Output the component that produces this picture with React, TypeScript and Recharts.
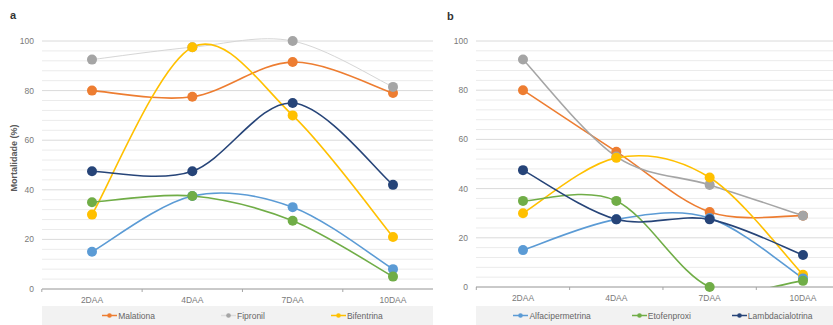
import { LineChart, Line, XAxis, YAxis, CartesianGrid } from "recharts";

const categories = ["2DAA", "4DAA", "7DAA", "10DAA"];
const yLabels = [0, 20, 40, 60, 80, 100];
const gridSteps = Array.from({ length: 26 }, (_, i) => i * 4);

// panel a
const malationaA = [80, 77.5, 91.5, 79];
const fipronilA = [92.5, 97.5, 100, 81.5];
const bifentrinaA = [30, 97.5, 70, 21];
const alfaA = [15, 37.5, 33, 8];
const etoA = [35, 37.5, 27.5, 5];
const lambdaA = [47.5, 47.5, 75, 42];

// panel b
const malationaB = [80, 55, 30.5, 29];
const fipronilB = [92.5, 53, 41.5, 29];
const bifentrinaB = [30, 52.5, 44.5, 5];
const alfaB = [15, 27.5, 28, 3.5];
const etoB = [35, 35, 0, 2.5];
const lambdaB = [47.5, 27.5, 27.5, 13];

const legendA = ["Malationa", "Fipronil", "Bifentrina"];
const legendB = ["Alfacipermetrina", "Etofenproxi", "Lambdacialotrina"];

const rowsA = categories.map((c, i) => ({
  cat: c, mal: malationaA[i], fip: fipronilA[i], bif: bifentrinaA[i],
  alf: alfaA[i], eto: etoA[i], lam: lambdaA[i],
}));
const rowsB = categories.map((c, i) => ({
  cat: c, mal: malationaB[i], fip: fipronilB[i], bif: bifentrinaB[i],
  alf: alfaB[i], eto: etoB[i], lam: lambdaB[i],
}));

const FONT = "'Liberation Sans', Arial, sans-serif";
const TXT = "#7a7a7a";

const series = [
  { key: "mal", name: "Malationa", color: "#ED7D31" },
  { key: "fip", name: "Fipronil", color: "#A5A5A5" },
  { key: "bif", name: "Bifentrina", color: "#FFC000" },
  { key: "alf", name: "Alfacipermetrina", color: "#5B9BD5" },
  { key: "eto", name: "Etofenproxi", color: "#70AD47" },
  { key: "lam", name: "Lambdacialotrina", color: "#264478" },
];

// excel-like smoothed line (catmull-rom as bezier)
function excelCurve(context: any) {
  let pts: number[][] = [];
  return {
    areaStart() {},
    areaEnd() {},
    lineStart() { pts = []; },
    point(x: number, y: number) { pts.push([+x, +y]); },
    lineEnd() {
      const n = pts.length;
      if (!n) return;
      context.moveTo(pts[0][0], pts[0][1]);
      for (let i = 0; i < n - 1; i++) {
        const p0 = pts[i - 1] || pts[i];
        const p1 = pts[i];
        const p2 = pts[i + 1];
        const p3 = pts[i + 2] || p2;
        context.bezierCurveTo(
          p1[0] + (p2[0] - p0[0]) / 6, p1[1] + (p2[1] - p0[1]) / 6,
          p2[0] - (p3[0] - p1[0]) / 6, p2[1] - (p3[1] - p1[1]) / 6,
          p2[0], p2[1]
        );
      }
    },
  };
}

function YTick(props: any) {
  const { x, y, payload } = props;
  if (payload.value % 20 !== 0) return <g />;
  return (
    <text x={x} y={y} textAnchor="end" dominantBaseline="central" fontSize={8.5} fill={TXT} fontFamily={FONT}>
      {payload.value}
    </text>
  );
}

function xTick(half: number) {
  return (props: any) => {
    const { x, y, payload, index } = props;
    return (
      <g>
        <line x1={x - half} x2={x - half} y1={y} y2={y + 3} stroke="#a6a6a6" />
        {index === categories.length - 1 && <line x1={x + half} x2={x + half} y1={y} y2={y + 3} stroke="#a6a6a6" />}
        <text x={x} y={y + 11} textAnchor="middle" dominantBaseline="central" fontSize={8.5} fill={TXT} fontFamily={FONT}>
          {payload.value}
        </text>
      </g>
    );
  };
}

function gridLine(props: any) {
  const v = gridSteps[props.index];
  return (
    <line key={props.key ?? props.index} x1={props.x1} x2={props.x2} y1={props.y1} y2={props.y2}
      stroke={v % 20 === 0 ? "#dadada" : "#ebebeb"} strokeWidth={1} />
  );
}

function Legend({ names, gap, faint }: { names: string[]; gap: number; faint?: string }) {
  return (
    <div style={{ display: "flex", justifyContent: "center", alignItems: "center", gap, height: 19 }}>
      {names.map((n) => {
        const s = series.find((q) => q.name === n)!;
        return (
          <div key={n} style={{ display: "flex", alignItems: "center" }}>
            <svg width={15} height={7}>
              <line x1={0} x2={15} y1={3.5} y2={3.5} stroke={n === faint ? "#dcdcdc" : s.color} strokeWidth={1.5} />
              <circle cx={7.5} cy={3.5} r={2.3} fill={s.color} />
            </svg>
            <span style={{ fontSize: 8.5, color: "#666", marginLeft: 1 }}>{n}</span>
          </div>
        );
      })}
    </div>
  );
}

function Panel({ rows, width, padX, bottom, half, thinFip, clip }: any) {
  return (
    <LineChart width={width} height={325} data={rows} margin={{ top: 41, right: 2, bottom, left: 0 }}>
      <CartesianGrid vertical={false} horizontal={gridLine} />
      <XAxis
        dataKey="cat"
        height={20}
        padding={{ left: padX, right: padX }}
        stroke="#a6a6a6"
        tickSize={0}
        tickMargin={0}
        tick={xTick(half)}
        interval={0}
      />
      <YAxis
        width={42}
        domain={[0, 100]}
        ticks={gridSteps}
        interval={0}
        allowDataOverflow={!!clip}
        axisLine={false}
        tickLine={false}
        tickSize={0}
        tickMargin={8}
        tick={<YTick />}
      />
      {series.map((s) => {
        const thin = thinFip && s.key === "fip";
        return (
          <Line
            key={s.key}
            dataKey={s.key}
            name={s.name}
            type={excelCurve as any}
            stroke={thin ? "#d6d6d6" : s.color}
            strokeWidth={thin ? 1 : 1.6}
            dot={{ r: 5, fill: s.color, stroke: s.color, strokeWidth: 0, clipDot: false }}
            activeDot={false}
            isAnimationActive={false}
          />
        );
      })}
    </LineChart>
  );
}

export default function App() {
  return (
    <div style={{ position: "fixed", left: 0, top: 0, width: 833, height: 325, overflow: "hidden", background: "#fff", fontFamily: FONT }}>
      <div style={{ position: "absolute", left: 0, top: 0, width: 433, height: 325, overflow: "hidden" }}>
        <Panel rows={rowsA} width={445} padX={50} bottom={16} half={50.2} thinFip />
        <div style={{ position: "absolute", left: 42, top: 306, width: 401, height: 19, background: "#f2f2f2" }}>
          <Legend names={legendA} gap={66} faint="Fipronil" />
        </div>
        <svg style={{ position: "absolute", left: 0, top: 0 }} width={40} height={325}>
          <text x={10} y={19} fontSize={11} fontWeight="bold" fill="#333" fontFamily={FONT}>a</text>
          <text x={17} y={158} transform="rotate(-90 17 158)" textAnchor="middle" fontSize={9} fontWeight="bold" fill="#595959" fontFamily={FONT}>
            Mortalidade (%)
          </text>
        </svg>
      </div>
      <div style={{ position: "absolute", left: 434, top: 0, width: 399, height: 325, overflow: "hidden", background: "#fff" }}>
        <Panel rows={rowsB} width={418} padX={47} bottom={18} half={46.7} clip />
        <div style={{ position: "absolute", left: 42, top: 306, width: 374, height: 19, background: "#f2f2f2" }}>
          <Legend names={legendB} gap={41} />
        </div>
        <svg style={{ position: "absolute", left: 0, top: 0 }} width={40} height={40}>
          <text x={13} y={20} fontSize={11} fontWeight="bold" fill="#333" fontFamily={FONT}>b</text>
        </svg>
      </div>
    </div>
  );
}
